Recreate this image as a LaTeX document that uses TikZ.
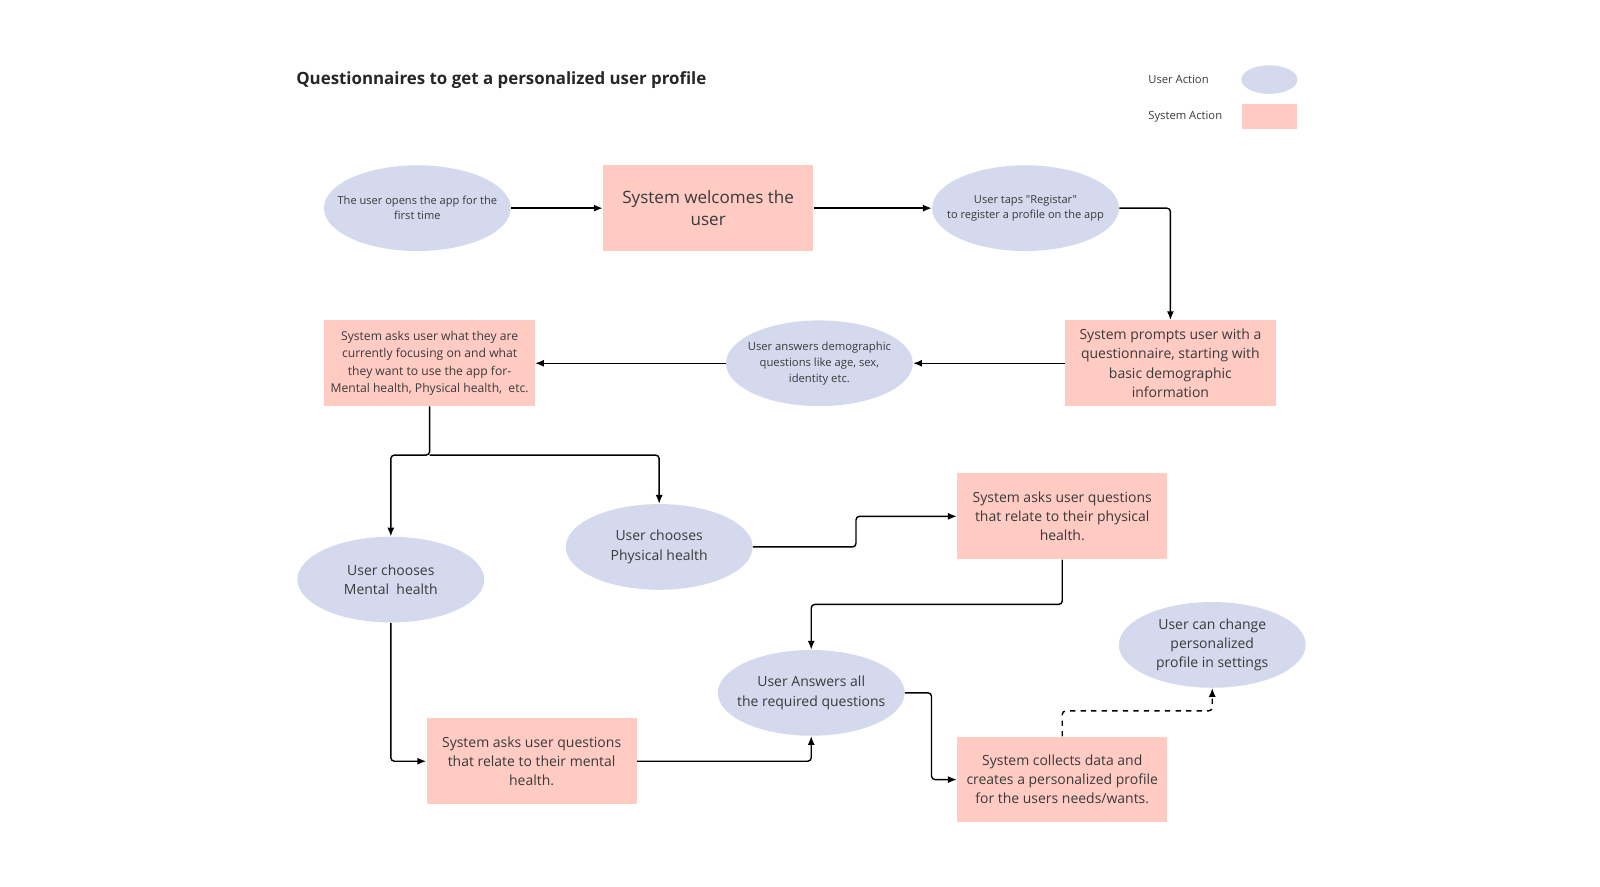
\documentclass[tikz,border=0pt]{standalone}
\usepackage{fontspec}
\setmainfont{Open Sans}[Ligatures=TeXOff]
\usetikzlibrary{shapes.geometric,arrows.meta}
\definecolor{usr}{HTML}{D5D9EE}
\definecolor{sys}{HTML}{FFCBC3}
\definecolor{txt}{HTML}{3A3A3A}

\begin{document}
\begin{tikzpicture}[x=0.020408cm,y=-0.020408cm,
ua/.style={ellipse, fill=usr, minimum width=3.735cm, minimum height=1.714cm, inner xsep=-0.4cm, inner ysep=0, align=center, text=txt},
sa/.style={fill=sys, minimum width=4.204cm, minimum height=1.714cm, inner sep=0, align=center, text=txt},
sm/.style={font=\fontsize{6.3}{8.7}\selectfont},
md/.style={font=\fontsize{7.95}{10.9}\selectfont},
lg/.style={font=\fontsize{9.7}{13}\selectfont},
fl/.style={-{Latex[length=5pt,width=4pt]}, line width=0.8pt, rounded corners=2pt}]
	\useasboundingbox (0,0) rectangle (1568,868.3);
	\node[anchor=west, inner sep=0, font=\bfseries\fontsize{9.6}{11}\selectfont, text=black!85] (title) at (290,78) {Questionnaires to get a personalized user profile};
	
	% legend
	\node[anchor=west, inner sep=0, font=\fontsize{6.4}{8}\selectfont, text=txt] (lu) at (1125,78) {User Action};
	\node[anchor=west, inner sep=0, font=\fontsize{6.4}{8}\selectfont, text=txt] (ls) at (1125,114) {System Action};
	\node[ua, minimum width=1.122cm, minimum height=0.571cm] (lue) at (1244,78) {};
	\node[sa, minimum width=1.102cm, minimum height=0.49cm] (lse) at (1244,114) {};
	
	% first row
	\node[ua, sm] (e1) at (409,204) {The user opens the app for the\\first time};
	\node[sa, lg] (r1) at (694,204) {System welcomes the\\user};
	\node[ua, sm] (e2) at (1005,204) {User taps "Registar"\\to register a profile on the app};
	
	% second row
	\node[sa, md] (r2) at (1147,356) {System prompts user with a\\questionnaire, starting with\\basic demographic\\information};
	\node[ua, font=\fontsize{6.4}{9.2}\selectfont] (e3) at (803,356) {User answers demographic\\questions like age, sex,\\identity etc.};
	\node[sa, font=\fontsize{6.9}{9.8}\selectfont] (r3) at (421,356) {System asks user what they are\\currently focusing on and what\\they want to use the app for-\\Mental health, Physical health,\ \ etc.};
	
	% choices
	\node[ua, md] (e4) at (383,568) {User chooses\\Mental\ \ health};
	\node[ua, md] (e5) at (646,536) {User chooses\\Physical health};
	\node[sa, md] (r4) at (1041,506) {System asks user questions\\that relate to their physical\\health.};
	\node[sa, md] (r5) at (521,746) {System asks user questions\\that relate to their mental\\health.};
	\node[ua, md] (e6) at (795,679) {User Answers all\\the required questions};
	\node[sa, md] (r6) at (1041,764) {System collects data and\\creates a personalized profile\\for the users needs/wants.};
	\node[ua, md] (e7) at (1188,632) {User can change\\personalized\\profile in settings};
	
	\coordinate (br) at (421,446);
	\draw[fl] (e1) -- (r1);
	\draw[fl] (r1) -- (e2);
	\draw[fl] (e2.east) -| (r2.north);
	\draw[fl] (r2) -- (e3);
	\draw[fl] (e3) -- (r3);
	\draw[fl] (r3.south) -- (br) -| (e4.north);
	\draw[fl] (br) -| (e5.north);
	\draw[fl] (e5.east) -- ++(101,0) |- (r4.west);
	\draw[fl] (r4.south) -- ++(0,44) -| (e6.north);
	\draw[fl] (e4.south) |- (r5.west);
	\draw[fl] (r5.east) -| (e6.south);
	\draw[fl] (e6.east) -- ++(26,0) |- (r6.west);
	\draw[fl, dashed] (r6.north) -- ++(0,-25) -| (e7.south);
\end{tikzpicture}
\end{document}
